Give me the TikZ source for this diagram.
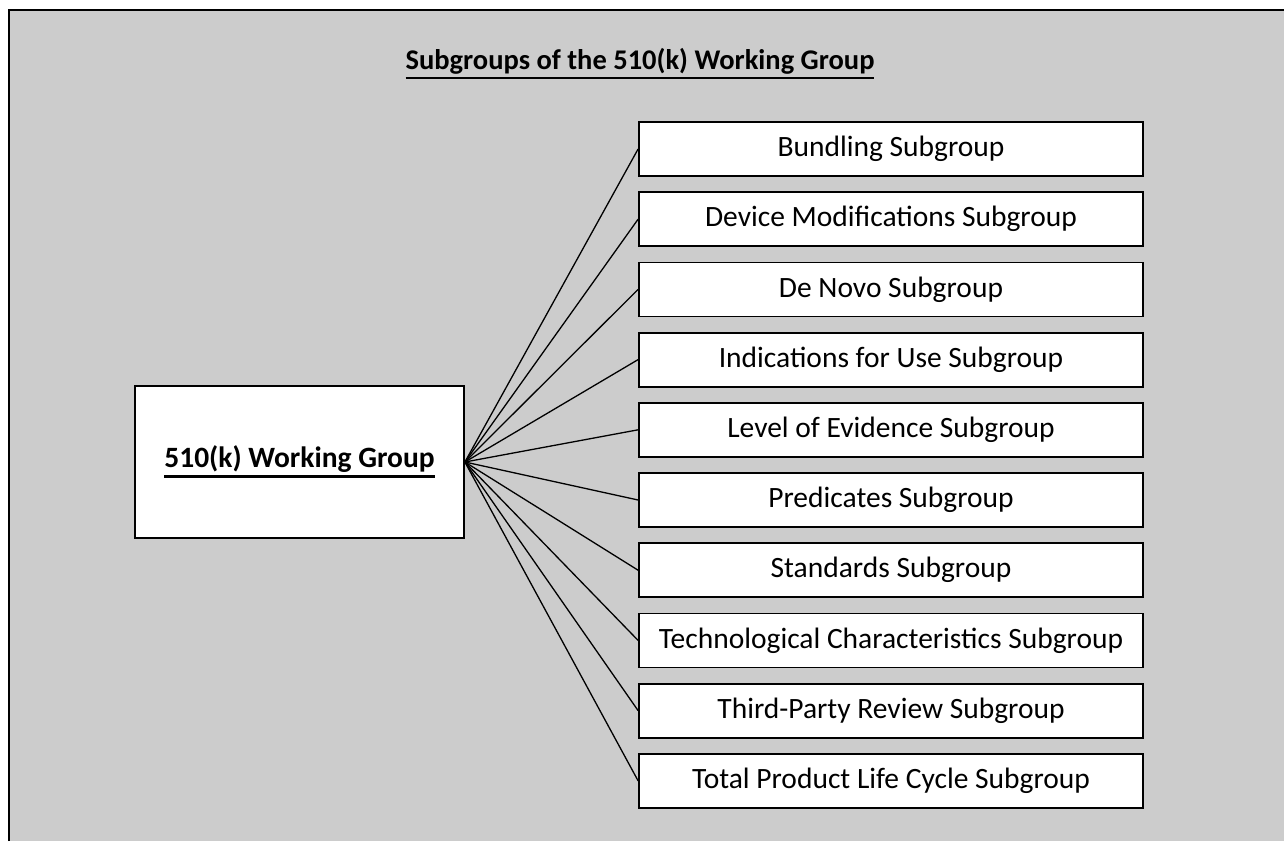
\documentclass[tikz,border=0pt]{standalone}
\usepackage{fontspec}
\setmainfont{Carlito}
\usepackage{tikz}

% thick underline as in the source
\newcommand{\thickul}[1]{\vtop{\hbox{#1}\kern2.5pt\hrule height 2.5pt}}

\tikzset{
  subbox/.style={draw=boxline,fill=boxfill,line width=1.8pt,minimum width=504pt,minimum height=54pt,inner sep=0pt,font=\fontsize{29.5}{34}\selectfont},
  mainbox/.style={draw=boxline,fill=boxfill,line width=1.8pt,minimum width=329pt,minimum height=152pt,inner sep=0pt,font=\bfseries\fontsize{29.5}{34}\selectfont},
  link/.style={draw=boxline,line width=1.3pt}
}

\begin{document}
\begin{tikzpicture}[x=1pt,y=-1pt]
\definecolor{boxfill}{RGB}{255,255,255}
\definecolor{boxline}{RGB}{0,0,0}
\definecolor{background}{RGB}{204,204,204}
\useasboundingbox (0,0) rectangle (1284,841);
\fill [white] (0,0) rectangle (1284,841);
\fill [background] (9,10) rectangle (1284,841);
\draw [line width=2pt,boxline] (9,841) -- (9,10) -- (1284,10);
\node (title) at (640,64) [font=\bfseries\fontsize{28.5}{33}\selectfont] {\thickul{Subgroups of the 510(k) Working Group}};
\node [mainbox] (wg) at (299.5,462) {\thickul{510(k) Working Group}};
\foreach \name [count=\i] in {Bundling Subgroup,Device Modifications Subgroup,De Novo Subgroup,Indications for Use Subgroup,Level of Evidence Subgroup,Predicates Subgroup,Standards Subgroup,Technological Characteristics Subgroup,Third-Party Review Subgroup,Total Product Life Cycle Subgroup}
{
  \node [subbox] (sub\i) at (891,{149+70.2*(\i-1)}) {\name};
  \draw [link] (wg.east) -- (sub\i.west);
}
\end{tikzpicture}
\end{document}
